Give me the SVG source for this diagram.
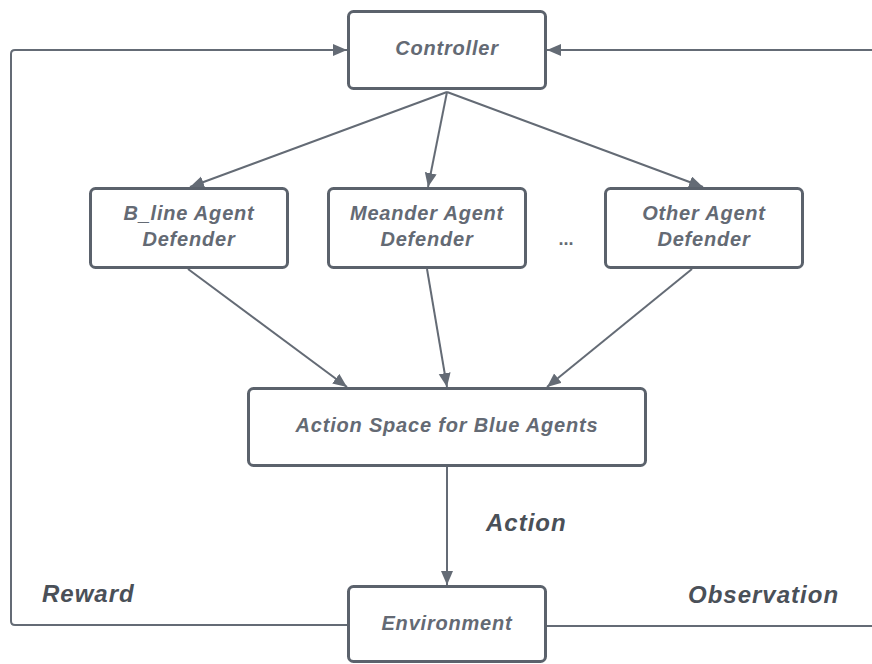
<svg xmlns="http://www.w3.org/2000/svg" width="872" height="664" viewBox="0 0 872 664">
  <defs>
    <marker id="arrow" markerUnits="userSpaceOnUse" markerWidth="15" markerHeight="13" refX="14" refY="6" orient="auto">
      <path d="M0,0 L14,6 L0,12 z" fill="#646b75"/>
    </marker>
    <style>
      .box { fill: #ffffff; stroke: #5b626c; stroke-width: 3; }
      .txt { font-family: "Liberation Sans", Arial, sans-serif; font-size: 20px; font-weight: bold; font-style: italic; fill: #646a74; text-anchor: middle; letter-spacing: 0.8px; }
      .lbl { font-family: "Liberation Sans", Arial, sans-serif; font-size: 24px; font-weight: bold; font-style: italic; fill: #4a5058; letter-spacing: 1px; }
      .edge { fill: none; stroke: #646b75; stroke-width: 2; }
    </style>
  </defs>
  <rect width="872" height="664" fill="#ffffff"/>

  <g id="connectors">
    <path class="edge" d="M347,625 H15 Q11,625 11,621 V54 Q11,50 15,50 H347" marker-end="url(#arrow)"/>
    <path class="edge" d="M872,50 H547" marker-end="url(#arrow)"/>
    <path class="edge" d="M547,626 H872"/>
    <path class="edge" d="M447,92 L190,187" marker-end="url(#arrow)"/>
    <path class="edge" d="M447,92 L428,187" marker-end="url(#arrow)"/>
    <path class="edge" d="M447,92 L703,187" marker-end="url(#arrow)"/>
    <path class="edge" d="M188,269 L347,387" marker-end="url(#arrow)"/>
    <path class="edge" d="M427,269 L447,387" marker-end="url(#arrow)"/>
    <path class="edge" d="M692,269 L547,387" marker-end="url(#arrow)"/>
    <path class="edge" d="M447,467 L447,585" marker-end="url(#arrow)"/>
  </g>

  <g id="controller">
    <rect class="box" x="348.5" y="11.5" width="197" height="77" rx="5"/>
    <text class="txt" x="447" y="55">Controller</text>
  </g>
  <g id="bline">
    <rect class="box" x="90.5" y="188.5" width="197" height="79" rx="5"/>
    <text class="txt" x="189" y="220">B_line Agent</text>
    <text class="txt" x="189" y="246">Defender</text>
  </g>
  <g id="meander">
    <rect class="box" x="328.5" y="188.5" width="197" height="79" rx="5"/>
    <text class="txt" x="427" y="220">Meander Agent</text>
    <text class="txt" x="427" y="246">Defender</text>
  </g>
  <g id="ellipsis">
    <text class="txt" x="566" y="245" style="font-size:18px;font-style:normal;letter-spacing:0">...</text>
  </g>
  <g id="other">
    <rect class="box" x="605.5" y="188.5" width="197" height="79" rx="5"/>
    <text class="txt" x="704" y="220">Other Agent</text>
    <text class="txt" x="704" y="246">Defender</text>
  </g>
  <g id="action-space">
    <rect class="box" x="248.5" y="388.5" width="397" height="77" rx="5"/>
    <text class="txt" x="447" y="432">Action Space for Blue Agents</text>
  </g>
  <g id="environment">
    <rect class="box" x="348.5" y="586.5" width="197" height="75" rx="5"/>
    <text class="txt" x="447" y="630">Environment</text>
  </g>

  <g id="labels">
    <text class="lbl" x="486" y="531">Action</text>
    <text class="lbl" x="42" y="602">Reward</text>
    <text class="lbl" x="688" y="603">Observation</text>
  </g>
</svg>
